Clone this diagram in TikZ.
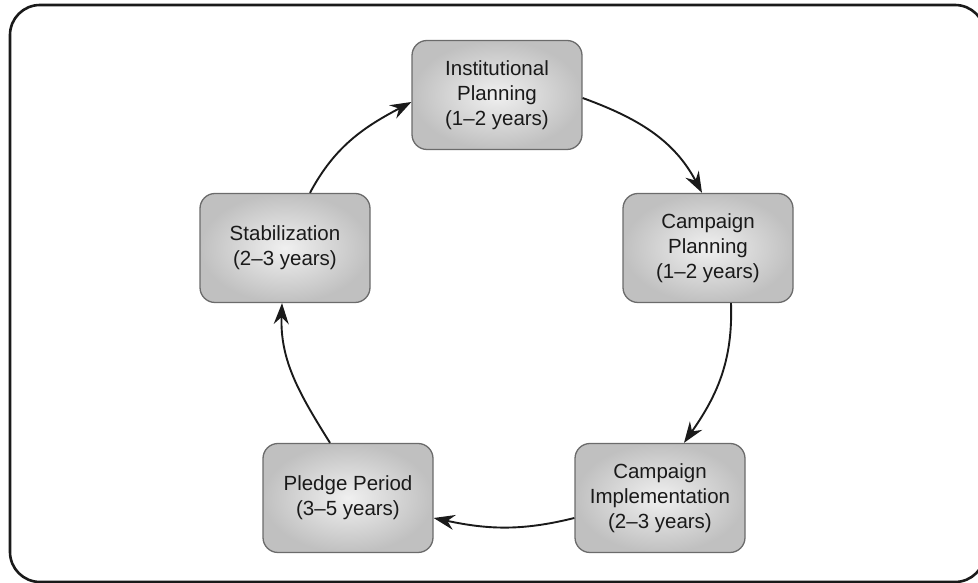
\documentclass[tikz,border=0pt]{standalone}
\usepackage{xcolor}
\usepackage{fontspec}
\setmainfont{Liberation Sans}
\usepackage{tikz}
\usetikzlibrary{arrows.meta,positioning,calc}
\definecolor{stageedge}{HTML}{6B6B6B}
\definecolor{stagelt}{HTML}{F0F0F0}
\definecolor{stagedk}{HTML}{C0C0C0}
\definecolor{cycleink}{HTML}{1A1A1A}

\begin{document}
\begin{tikzpicture}[
  x=1pt, y=1pt,
  stage/.style={draw=stageedge, line width=1.3pt, rounded corners=15pt, inner color=stagelt, outer color=stagedk,
    minimum width=170pt, minimum height=109pt, align=center, text=cycleink, font=\fontsize{20.5}{25}\selectfont},
  flow/.style={draw=cycleink, line width=1.9pt, -{Stealth[length=21pt, width=15pt, inset=7pt]}},
]
\useasboundingbox (0,0) rectangle (978,583);
\draw[cycleink, line width=2.6pt, rounded corners=30pt] (10,1) rectangle (985,578);

\node[stage] (inst) at (497,488) {Institutional\\Planning\\(1--2 years)};
\node[stage] (cplan) at (708,335) {Campaign\\Planning\\(1--2 years)};
\node[stage] (cimpl) at (660,85) {Campaign\\Implementation\\(2--3 years)};
\node[stage] (pledge) at (348,85) {Pledge Period\\(3--5 years)};
\node[stage] (stab) at (285,335) {Stabilization\\(2--3 years)};

\draw[flow] ([yshift=-3]inst.east) to[out=-20, in=118] ([xshift=-6]cplan.north);
\draw[flow] ([xshift=23]cplan.south) to[out=-88, in=55] ([xshift=24]cimpl.north);
\draw[flow] ([yshift=-20]cimpl.west) to[out=194, in=-12] ([yshift=-20]pledge.east);
\draw[flow] ([xshift=-18]pledge.north) to[out=122, in=-92] ([xshift=-3]stab.south);
\draw[flow] ([xshift=25]stab.north) to[out=62, in=208] ([yshift=-7]inst.west);
\end{tikzpicture}
\end{document}
